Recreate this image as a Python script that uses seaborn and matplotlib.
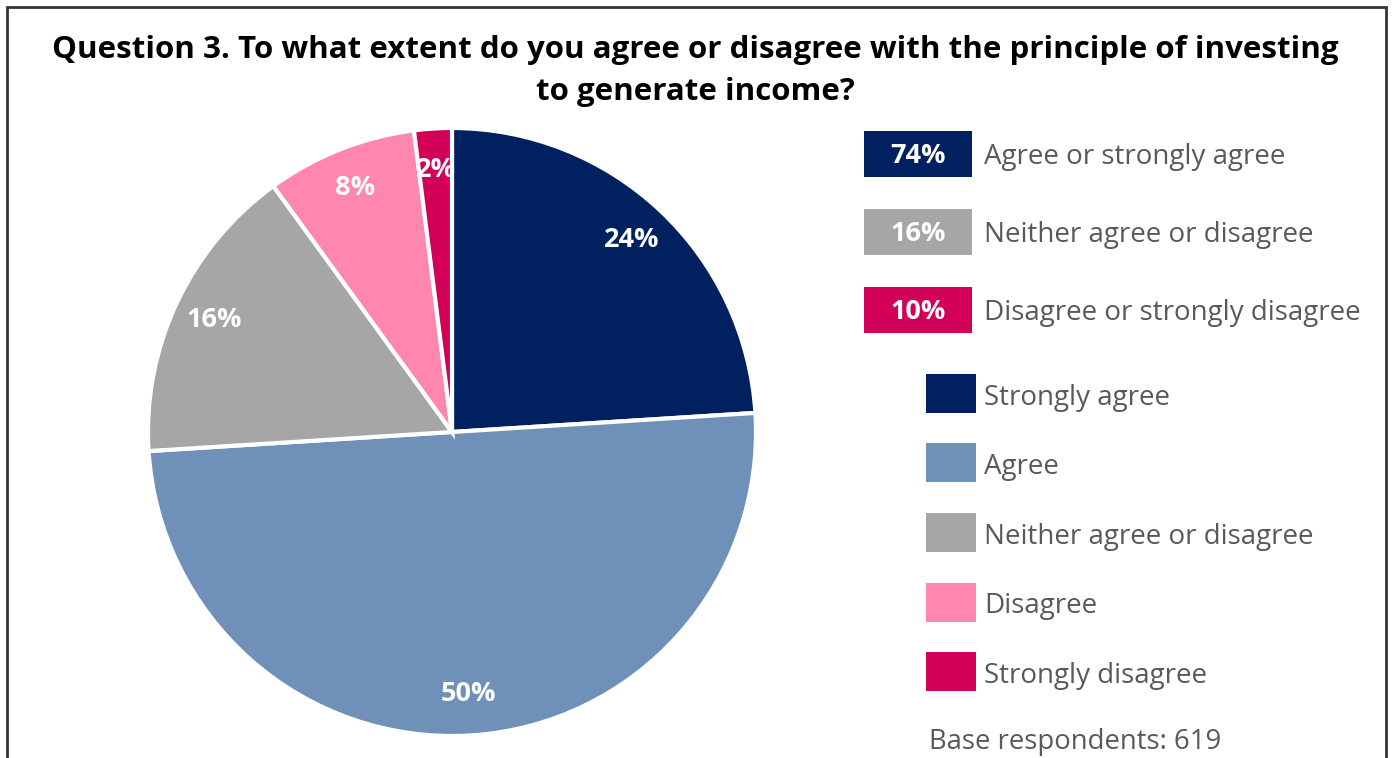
import matplotlib
matplotlib.use("Agg")
import matplotlib.pyplot as plt
from matplotlib.patches import Rectangle
import seaborn as sns

# Survey responses (percent of respondents)
categories = ["Strongly agree", "Agree", "Neither agree or disagree", "Disagree", "Strongly disagree"]
shares = [24, 50, 16, 8, 2]
colors = ["#002060", "#6E90B9", "#A6A6A6", "#FF86AE", "#D20057"]

# Grouped summary rows
summary_labels = ["Agree or strongly agree", "Neither agree or disagree", "Disagree or strongly disagree"]
summary_groups = [[0, 1], [2], [3, 4]]
summary_colors = ["#002060", "#A6A6A6", "#D20057"]

base_respondents = 619
title = ("Question 3. To what extent do you agree or disagree with the principle of investing\n"
         "to generate income?")

sns.set_theme(style="white")
plt.rcParams["font.family"] = ["Open Sans", "DejaVu Sans"]

W, H = 1393, 758
fig = plt.figure(figsize=(W / 100, H / 100), dpi=100)
fig.patch.set_facecolor("white")


def fx(x):
    return x / W


def fy(y):
    return 1 - y / H


# Outer frame
fig.patches.append(Rectangle((fx(7), fy(800)), fx(1386) - fx(7), fy(7) - fy(800),
                             transform=fig.transFigure, fill=False,
                             edgecolor="#333333", linewidth=2))

fig.text(fx(695), fy(71), title, ha="center", va="center", fontsize=22.5,
         fontweight="bold", color="#000000", linespacing=1.55)

# Pie
cx, cy, r = 452, 432, 304
ax = fig.add_axes([fx(cx - r), fy(cy + r), (2 * r) / W, (2 * r) / H])
wedges, _, autotexts = ax.pie(
    shares, colors=colors, startangle=90, counterclock=False,
    autopct=lambda p: f"{p:.0f}%", pctdistance=0.865,
    wedgeprops=dict(edgecolor="white", linewidth=3),
    textprops=dict(color="white", fontsize=19.5, fontweight="bold"),
)
ax.set_xlim(-1, 1)
ax.set_ylim(-1, 1)
ax.set_aspect("equal")
ax.axis("off")

# Summary boxes
for i, (lab, grp, col) in enumerate(zip(summary_labels, summary_groups, summary_colors)):
    top = 131 + i * 78
    val = sum(shares[j] for j in grp)
    fig.patches.append(Rectangle((fx(864), fy(top + 46)), fx(972) - fx(864), 46 / H,
                                 transform=fig.transFigure, facecolor=col, edgecolor="none"))
    fig.text(fx(918), fy(top + 25), f"{val}%", ha="center", va="center",
             fontsize=19.5, fontweight="bold", color="white")
    fig.text(fx(984), fy(top + 26), lab, ha="left", va="center", fontsize=20, color="#595959")

# Category legend
for i, (lab, col) in enumerate(zip(categories, colors)):
    top = 374 + i * 69.5
    fig.patches.append(Rectangle((fx(926), fy(top + 39)), fx(976) - fx(926), 39 / H,
                                 transform=fig.transFigure, facecolor=col, edgecolor="none"))
    fig.text(fx(984), fy(top + 24), lab, ha="left", va="center", fontsize=20, color="#595959")

fig.text(fx(929), fy(742), f"Base respondents: {base_respondents}", ha="left", va="center",
         fontsize=19.8, color="#595959")

fig.savefig("out.png", dpi=100, facecolor="white")
